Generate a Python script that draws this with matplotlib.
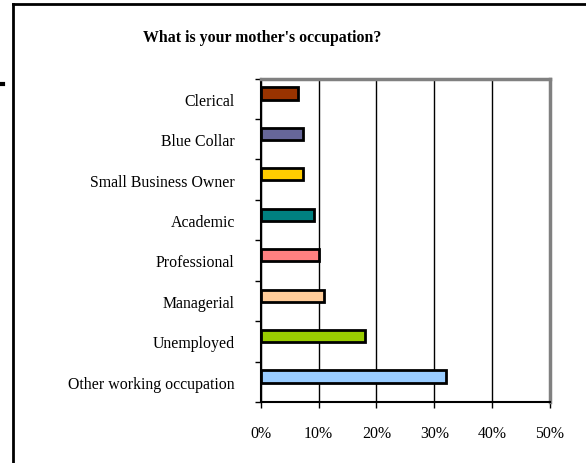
import matplotlib
matplotlib.use("Agg")
import matplotlib.pyplot as plt
from matplotlib.lines import Line2D
from matplotlib.ticker import FixedLocator, NullFormatter, PercentFormatter

# data (bottom to top)
categories = ["Other working occupation", "Unemployed", "Managerial", "Professional",
              "Academic", "Small Business Owner", "Blue Collar", "Clerical"]
values = [32.0, 18.0, 11.0, 10.0, 9.2, 7.3, 7.35, 6.5]
colors = ["#99CCFF", "#99CC00", "#FFCC99", "#FF8080",
          "#008080", "#FFCC00", "#666699", "#993300"]
xticks = [0, 10, 20, 30, 40, 50]

W, H = 586, 464
fig = plt.figure(figsize=(W / 100, H / 100), dpi=100)
ax = fig.add_axes([260.7 / W, 1 - 403 / H, (550 - 260.7) / W, (403 - 79.5) / H])

y = list(range(len(categories)))
# Excel-style: bars sit slightly above the category centre
ax.barh([i + 0.13 for i in y], values, height=0.3, color=colors,
        edgecolor="black", linewidth=2, zorder=3)

ax.set_xlim(0, 50)
ax.set_ylim(-0.5, len(categories) - 0.5)
ax.set_xticks(xticks)
ax.xaxis.set_major_formatter(PercentFormatter(decimals=0))
ax.set_yticks(y)
ax.set_yticklabels(categories)
ax.yaxis.set_minor_locator(FixedLocator([i - 0.5 for i in range(len(categories) + 1)]))
ax.yaxis.set_minor_formatter(NullFormatter())
ax.tick_params(axis="y", which="major", length=0, pad=18.7)
ax.tick_params(axis="y", which="minor", length=4, width=1, direction="out")
ax.tick_params(axis="x", length=4, width=1, direction="out", pad=12.5)
for lab in ax.get_xticklabels() + ax.get_yticklabels():
    lab.set_fontfamily("Liberation Serif")
    lab.set_fontsize(11.4)

ax.grid(axis="x", color="black", linewidth=1, zorder=0)
ax.spines["left"].set_color("black")
ax.spines["left"].set_linewidth(1.5)
ax.spines["bottom"].set_color("black")
ax.spines["bottom"].set_linewidth(1.5)
ax.spines["top"].set_color("#808080")
ax.spines["top"].set_linewidth(2.5)
ax.spines["right"].set_color("#808080")
ax.spines["right"].set_linewidth(2.5)

fig.text(262 / W, 1 - 38.5 / H, "What is your mother's occupation?", ha="center", va="center",
         fontfamily="Liberation Serif", fontweight="bold", fontsize=11.4)

# outer frame (left and top edges only)
fig.add_artist(Line2D([12.5 / W, 12.5 / W], [0, 1 - 4.5 / H], color="black", linewidth=2,
                      transform=fig.transFigure))
fig.add_artist(Line2D([12.5 / W, 1], [1 - 4.5 / H, 1 - 4.5 / H], color="black", linewidth=2,
                      transform=fig.transFigure))
fig.add_artist(Line2D([0, 3 / W], [1 - 85 / H, 1 - 85 / H], color="black", linewidth=3,
                      transform=fig.transFigure))

fig.savefig("out.png", dpi=100)
